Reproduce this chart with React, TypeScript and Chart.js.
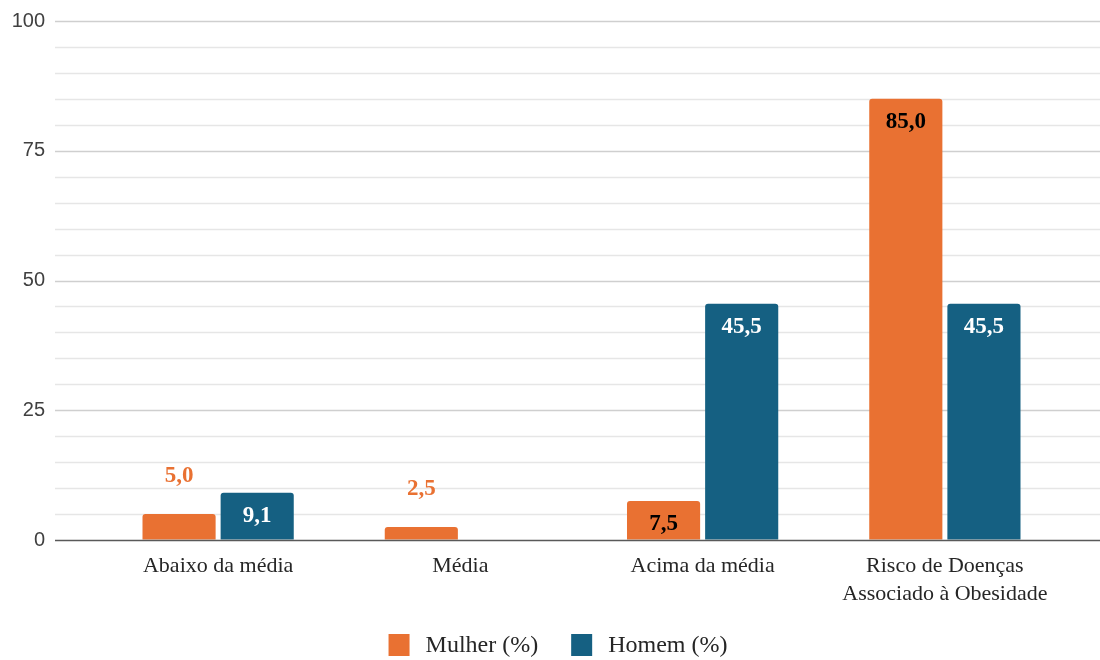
import React, { useEffect, useRef } from 'react';
import { Chart, registerables } from 'chart.js';

Chart.register(...registerables);

const categories: string[][] = [
  ['Abaixo da média'],
  ['Média'],
  ['Acima da média'],
  ['Risco de Doenças', 'Associado à Obesidade'],
];
const mulher = [5.0, 2.5, 7.5, 85.0];
const homem = [9.1, 0.0, 45.5, 45.5];
const seriesNames = ['Mulher (%)', 'Homem (%)'];
const yMin = 0;
const yMax = 100;
const majorStep = 25;
const minorStep = 5;

const ORANGE = '#E97132';
const BLUE = '#156082';
const SERIF = '"Liberation Serif", "Times New Roman", serif';
const SANS = '"Liberation Sans", Arial, sans-serif';

const labelStyles = [
  { outside: ORANGE, inside: '#000000' },
  { outside: '#FFFFFF', inside: '#FFFFFF' },
];

const gridPlugin = {
  id: 'customGrid',
  beforeDatasetsDraw(chart: any) {
    const ctx = chart.ctx;
    const y = chart.scales.y;
    const left = 55;
    const right = chart.width;
    ctx.save();
    for (let v = yMin + minorStep; v <= yMax; v += minorStep) {
      const py = Math.round(y.getPixelForValue(v)) + 0.5;
      ctx.beginPath();
      ctx.lineWidth = 1.5;
      ctx.strokeStyle = v % majorStep === 0 ? '#CFCFCF' : '#E6E6E6';
      ctx.moveTo(left, py);
      ctx.lineTo(right, py);
      ctx.stroke();
    }
    ctx.restore();
  },
  afterDatasetsDraw(chart: any) {
    const ctx = chart.ctx;
    const y = chart.scales.y;
    const py = Math.round(y.getPixelForValue(0)) + 0.5;
    ctx.save();
    ctx.beginPath();
    ctx.lineWidth = 1.5;
    ctx.strokeStyle = '#595959';
    ctx.moveTo(55, py);
    ctx.lineTo(chart.width, py);
    ctx.stroke();
    ctx.restore();
  },
};

const labelPlugin = {
  id: 'valueLabels',
  afterDatasetsDraw(chart: any) {
    const ctx = chart.ctx;
    ctx.save();
    ctx.font = `bold 23px ${SERIF}`;
    ctx.textAlign = 'center';
    ctx.textBaseline = 'middle';
    chart.data.datasets.forEach((ds: any, di: number) => {
      const meta = chart.getDatasetMeta(di);
      meta.data.forEach((el: any, i: number) => {
        const v = ds.data[i] as number;
        const text = v.toFixed(1).replace('.', ',');
        const outside = v < 6;
        ctx.fillStyle = outside ? labelStyles[di].outside : labelStyles[di].inside;
        const ty = outside ? el.y - 38 : el.y + 23;
        ctx.fillText(text, el.x, ty);
      });
    });
    ctx.restore();
  },
};

const legendPlugin = {
  id: 'customLegend',
  afterDraw(chart: any) {
    const ctx = chart.ctx;
    ctx.save();
    ctx.font = `24px ${SERIF}`;
    ctx.textBaseline = 'middle';
    ctx.textAlign = 'left';
    const box = 21;
    const gapText = 16;
    const gapItem = 33;
    const items = chart.data.datasets.map((ds: any) => ({
      text: ds.label as string,
      color: ds.backgroundColor as string,
      w: ctx.measureText(ds.label).width,
    }));
    const total =
      items.reduce((s: number, it: any) => s + box + gapText + it.w, 0) + gapItem * (items.length - 1);
    let x = chart.width / 2 + 8 - total / 2;
    const cy = 645;
    items.forEach((it: any) => {
      ctx.fillStyle = it.color;
      ctx.fillRect(x, cy - 11, box, 22);
      ctx.fillStyle = '#262626';
      ctx.fillText(it.text, x + box + gapText, cy + 1);
      x += box + gapText + it.w + gapItem;
    });
    ctx.restore();
  },
};

export default function App() {
  const ref = useRef<HTMLCanvasElement>(null);
  useEffect(() => {
    if (!ref.current) return;
    const chart = new Chart(ref.current, {
      type: 'bar',
      data: {
        labels: categories,
        datasets: [
          {
            label: seriesNames[0],
            data: mulher,
            backgroundColor: ORANGE,
            borderRadius: { topLeft: 3, topRight: 3 },
            borderSkipped: 'bottom',
            categoryPercentage: 0.645,
            barPercentage: 0.936,
          },
          {
            label: seriesNames[1],
            data: homem,
            backgroundColor: BLUE,
            borderRadius: { topLeft: 3, topRight: 3 },
            borderSkipped: 'bottom',
            categoryPercentage: 0.645,
            barPercentage: 0.936,
          },
        ],
      },
      options: {
        responsive: false,
        animation: false,
        devicePixelRatio: 1,
        layout: {
          autoPadding: false,
          padding: { left: 0, right: 34, top: 21, bottom: 0 },
        },
        scales: {
          x: {
            grid: { display: false, drawTicks: false },
            border: { display: false },
            ticks: {
              font: { family: SERIF, size: 22, lineHeight: 1.28 },
              color: '#262626',
              padding: 12,
              maxRotation: 0,
              autoSkip: false,
            },
            afterFit(scale: any) {
              scale.height = 120;
            },
          },
          y: {
            min: yMin,
            max: yMax,
            grid: {
              display: true,
              drawOnChartArea: false,
              drawTicks: true,
              tickLength: 44,
              color: 'rgba(0,0,0,0)',
            },
            border: { display: false },
            ticks: {
              stepSize: majorStep,
              font: { family: SANS, size: 20 },
              color: '#404040',
              padding: 8,
            },
            afterFit(scale: any) {
              scale.width = 97;
            },
          },
        },
        plugins: {
          legend: { display: false },
          tooltip: { enabled: false },
        },
      },
      plugins: [gridPlugin, labelPlugin, legendPlugin],
    });
    return () => chart.destroy();
  }, []);
  return (
    <div style={{ position: 'fixed', left: 0, top: 0, width: 1100, height: 660, background: '#fff' }}>
      <canvas ref={ref} width={1100} height={660} style={{ display: 'block' }} />
    </div>
  );
}
